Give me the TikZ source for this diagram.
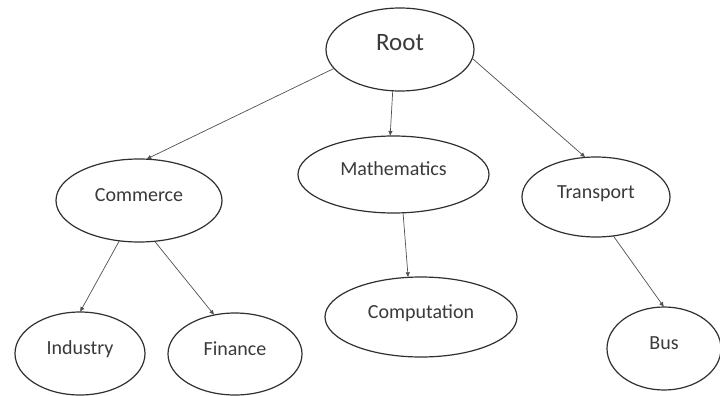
\documentclass[tikz,border=0pt]{standalone}
\usepackage{fontspec}
\setmainfont{Carlito}
\usetikzlibrary{shapes.geometric,arrows.meta}
\definecolor{inkline}{HTML}{303030}
\definecolor{inktext}{HTML}{3A3A3A}
\definecolor{linkline}{HTML}{505050}
\tikzset{
  topic/.style n args={2}{ellipse, draw=inkline, line width=1.2pt, fill=white,
    minimum width=#1pt, minimum height=#2pt, inner sep=0pt, outer sep=0pt,
    text=inktext, font=\fontsize{20}{24}\selectfont,
    text height=0.7em, text depth=0.45em},
  link/.style={draw=linkline, line width=0.7pt,
    -{Latex[length=5pt,width=4.5pt]}}
}
\begin{document}
\begin{tikzpicture}[x=1pt,y=-1pt]
  \fill[white] (0,0) rectangle (720,396);
  \useasboundingbox (0,0) rectangle (720,396);

  % tree nodes
  \node[topic={148}{83}, font=\fontsize{25}{30}\selectfont] (root) at (400,49.5) {Root};
  \node[topic={166}{83}] (commerce)    at (139,200.5) {Commerce};
  \node[topic={191}{77}] (mathematics) at (393.5,174.5) {Mathematics};
  \node[topic={148}{80}] (transport)   at (596,197) {Transport};
  \node[topic={130}{83}] (industry)    at (80,353.5) {Industry};
  \node[topic={134}{82}] (finance)     at (235,354) {Finance};
  \node[topic={192}{80}] (computation) at (421,317) {Computation};
  \node[topic={114}{83}] (bus)         at (664,348.5) {Bus};

  % parent-to-child links
  \draw[link] (root.196) -- (commerce.80);
  \draw[link] (root.260) -- (mathematics.95);
  \draw[link] (root.353) -- (transport.105);
  \draw[link] (commerce.244) -- (industry.north);
  \draw[link] (commerce.291) -- (finance.118);
  \draw[link] (mathematics.284) -- (computation.108);
  \draw[link] (transport.294) -- (bus.north);
\end{tikzpicture}
\end{document}
